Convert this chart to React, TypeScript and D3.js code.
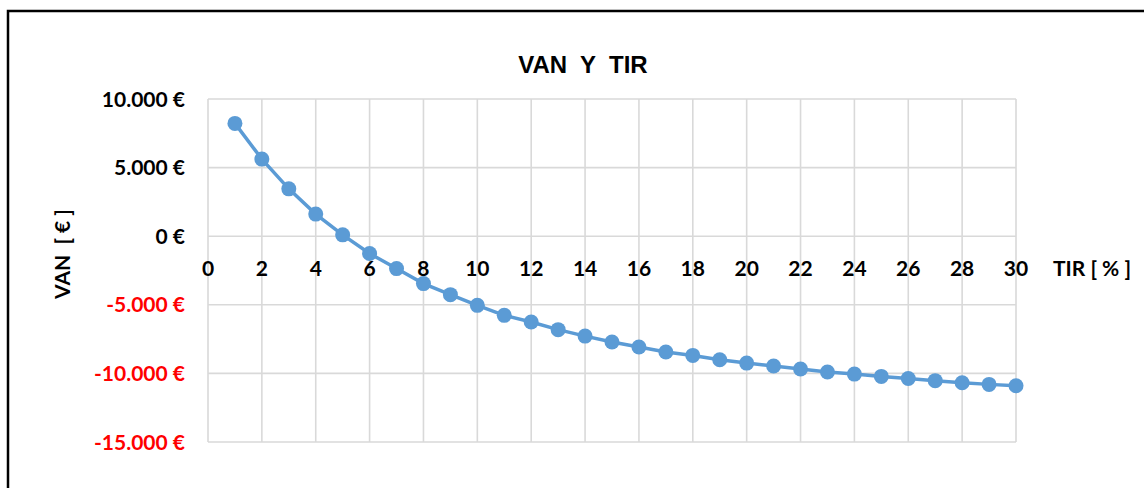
import React, { useEffect } from "react";
import * as d3 from "d3";

const tirValues = [1,2,3,4,5,6,7,8,9,10,11,12,13,14,15,16,17,18,19,20,21,22,23,24,25,26,27,28,29,30];
const vanValues = [8220,5620,3450,1610,100,-1265,-2360,-3455,-4260,-5040,-5770,-6250,-6810,-7280,-7710,-8080,-8440,-8690,-9000,-9250,-9460,-9680,-9900,-10050,-10220,-10370,-10530,-10680,-10800,-10900];
const xTicks = [0,2,4,6,8,10,12,14,16,18,20,22,24,26,28,30];
const yTicks = [10000,5000,0,-5000,-10000,-15000];
const yTickLabels = ["10.000 €","5.000 €","0 €","-5.000 €","-10.000 €","-15.000 €"];

const W = 1144, H = 488;
const left = 208, right = 1016, top = 99, bottom = 442;

export default function App() {
  useEffect(() => {
    document.body.style.margin = "0";
  }, []);
  const x = d3.scaleLinear().domain([0, 30]).range([left, right]);
  const y = d3.scaleLinear().domain([-15000, 10000]).range([bottom, top]);
  const line = d3.line<number>().x((_, i) => x(tirValues[i])).y((d) => y(d));
  const tickFont = "Lato, 'Open Sans', sans-serif";
  const fs = 21;
  return (
    <svg width={W} height={H} style={{ display: "block", background: "#fff" }}>
      <rect x={8} y={11} width={1150} height={500} fill="none" stroke="#000" strokeWidth={2.5} />
      <text x={583} y={73} textAnchor="middle" fontFamily="'Liberation Sans', Arial, sans-serif" fontWeight="bold" fontSize={24} style={{ whiteSpace: "pre" }}>
        {"VAN  Y  TIR"}
      </text>
      {xTicks.map((t) => (
        <line key={"vx" + t} x1={x(t)} x2={x(t)} y1={top} y2={bottom} stroke="#d9d9d9" strokeWidth={1.6} />
      ))}
      {yTicks.map((t) => (
        <line key={"hy" + t} x1={left} x2={right} y1={y(t)} y2={y(t)} stroke="#d9d9d9" strokeWidth={1.6} />
      ))}
      {yTicks.map((t, i) => (
        <text key={"yl" + t} x={185} y={y(t)} dy="0.36em" textAnchor="end" fontFamily={tickFont} fontWeight="bold" fontSize={fs} fill={t < 0 ? "#ff0000" : "#000"}>
          {yTickLabels[i]}
        </text>
      ))}
      {xTicks.map((t) => (
        <text key={"xl" + t} x={x(t)} y={268} dy="0.36em" textAnchor="middle" fontFamily={tickFont} fontWeight="bold" fontSize={fs} fill="#000">
          {t}
        </text>
      ))}
      <text x={1053} y={268} dy="0.36em" fontFamily={tickFont} fontWeight="bold" fontSize={fs} style={{ whiteSpace: "pre" }}>
        {"TIR [ % ]"}
      </text>
      <text transform={`translate(62,254) rotate(-90)`} textAnchor="middle" dy="0.36em" fontFamily={tickFont} fontWeight="bold" fontSize={fs} style={{ whiteSpace: "pre" }}>
        {"VAN  [ € ]"}
      </text>
      <path d={line(vanValues) || ""} fill="none" stroke="#5b9bd5" strokeWidth={3.5} />
      {vanValues.map((v, i) => (
        <circle key={"p" + i} cx={x(tirValues[i])} cy={y(v)} r={7.5} fill="#5b9bd5" />
      ))}
    </svg>
  );
}
